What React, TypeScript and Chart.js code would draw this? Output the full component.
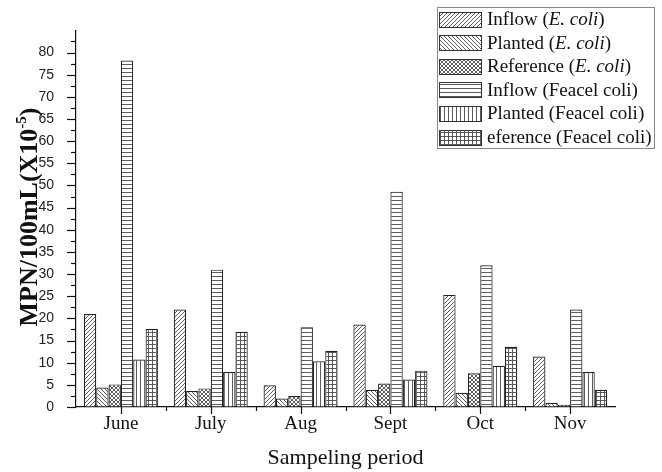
import React, { useEffect, useRef } from "react";
import { Chart, registerables } from "chart.js";

Chart.register(...registerables);

const categories = ["June", "July", "Aug", "Sept", "Oct", "Nov"];
const seriesLabels = [
  "Inflow (E. coli)",
  "Planted (E. coli)",
  "Reference (E. coli)",
  "Inflow (Feacel coli)",
  "Planted (Feacel coli)",
  "eference (Feacel coli)",
];
const inflowEColi = [21.0, 22.0, 4.9, 18.6, 25.3, 11.4];
const plantedEColi = [4.4, 3.6, 1.9, 3.9, 3.2, 0.9];
const referenceEColi = [5.1, 4.2, 2.5, 5.3, 7.6, 0.5];
const inflowFaecal = [78.2, 31.0, 18.0, 48.6, 32.0, 22.0];
const plantedFaecal = [10.7, 7.9, 10.3, 6.2, 9.3, 7.9];
const referenceFaecal = [17.6, 17.0, 12.7, 8.2, 13.6, 3.9];
const yTickValues = [0, 5, 10, 15, 20, 25, 30, 35, 40, 45, 50, 55, 60, 65, 70, 75, 80];
const yMinorValues = [2.5, 7.5, 12.5, 17.5, 22.5, 27.5, 32.5, 37.5, 42.5, 47.5, 52.5, 57.5, 62.5, 67.5, 72.5, 77.5, 82.5];
const yAxisMax = 85;
const xTitle = "Sampeling period";
const yTitleMain = "MPN/100mL(X10";
const yTitleSup = "-5";
const yTitleEnd = ")";

const patternKinds = ["fwd", "back", "cross", "horiz", "vert", "grid"];

const SERIF = "'Liberation Serif', 'Times New Roman', serif";
const SANS = "'Liberation Sans', Arial, sans-serif";

function makePattern(kind: string): CanvasPattern | string {
  const s = 4;
  const c = document.createElement("canvas");
  c.width = s;
  c.height = s;
  const g = c.getContext("2d");
  if (!g) return "#fff";
  g.fillStyle = "#ffffff";
  g.fillRect(0, 0, s, s);
  g.strokeStyle = "#4a4a4a";
  g.lineWidth = 0.9;
  const line = (x1: number, y1: number, x2: number, y2: number) => {
    g.beginPath();
    g.moveTo(x1, y1);
    g.lineTo(x2, y2);
    g.stroke();
  };
  const fwd = () => {
    line(-1, s + 1, s + 1, -1);
    line(-1, 1, 1, -1);
    line(s - 1, s + 1, s + 1, s - 1);
  };
  const back = () => {
    line(-1, -1, s + 1, s + 1);
    line(s - 1, -1, s + 1, 1);
    line(-1, s - 1, 1, s + 1);
  };
  if (kind === "fwd") fwd();
  if (kind === "back") back();
  if (kind === "cross") {
    fwd();
    back();
  }
  if (kind === "horiz" || kind === "grid") line(0, 0.5, s, 0.5);
  if (kind === "vert" || kind === "grid") line(0.5, 0, 0.5, s);
  const p = g.createPattern(c, "repeat");
  return p || "#fff";
}

function drawRichLabel(ctx: CanvasRenderingContext2D, text: string, x: number, y: number) {
  const parts = text.split(/(E\. coli)/);
  let cx = x;
  for (const part of parts) {
    if (!part) continue;
    ctx.font = (part === "E. coli" ? "italic " : "") + "19px " + SERIF;
    ctx.fillText(part, cx, y);
    cx += ctx.measureText(part).width;
  }
}

const decorPlugin = {
  id: "decor",
  afterDraw(chart: any) {
    const ctx: CanvasRenderingContext2D = chart.ctx;
    const { left, bottom } = chart.chartArea;
    const xs = chart.scales.x;
    const ys = chart.scales.y;
    ctx.save();
    ctx.strokeStyle = "#111";
    ctx.lineWidth = 1.2;
    // y ticks
    for (const v of yTickValues) {
      const py = Math.round(ys.getPixelForValue(v)) + 0.5;
      ctx.beginPath();
      ctx.moveTo(left, py);
      ctx.lineTo(left - 9, py);
      ctx.stroke();
    }
    for (const v of yMinorValues) {
      const py = Math.round(ys.getPixelForValue(v)) + 0.5;
      ctx.beginPath();
      ctx.moveTo(left, py);
      ctx.lineTo(left - 5, py);
      ctx.stroke();
    }
    // x ticks
    for (let i = 0; i < categories.length; i++) {
      const px = Math.round(xs.getPixelForValue(i)) + 0.5;
      ctx.beginPath();
      ctx.moveTo(px, bottom);
      ctx.lineTo(px, bottom + 7);
      ctx.stroke();
      if (i < categories.length - 1) {
        const bx = Math.round((xs.getPixelForValue(i) + xs.getPixelForValue(i + 1)) / 2) + 0.5;
        ctx.beginPath();
        ctx.moveTo(bx, bottom);
        ctx.lineTo(bx, bottom + 4);
        ctx.stroke();
      }
    }
    // y title
    ctx.fillStyle = "#111";
    ctx.textBaseline = "alphabetic";
    ctx.textAlign = "left";
    const mainFont = "bold 26px " + SERIF;
    const supFont = "bold 15px " + SERIF;
    ctx.font = mainFont;
    const w1 = ctx.measureText(yTitleMain).width;
    const w3 = ctx.measureText(yTitleEnd).width;
    ctx.font = supFont;
    const w2 = ctx.measureText(yTitleSup).width;
    const total = w1 + w2 + w3;
    ctx.translate(37, 217);
    ctx.rotate(-Math.PI / 2);
    let tx = -total / 2;
    ctx.font = mainFont;
    ctx.fillText(yTitleMain, tx, 0);
    tx += w1;
    ctx.font = supFont;
    ctx.fillText(yTitleSup, tx, -11);
    tx += w2;
    ctx.font = mainFont;
    ctx.fillText(yTitleEnd, tx, 0);
    ctx.setTransform(1, 0, 0, 1, 0, 0);
    // legend
    const lx = 437.5;
    const ly = 7.5;
    const lw = 217;
    const lh = 141;
    ctx.fillStyle = "#fff";
    ctx.fillRect(lx, ly, lw, lh);
    ctx.strokeStyle = "#888";
    ctx.lineWidth = 1;
    ctx.strokeRect(lx, ly, lw, lh);
    const ds = chart.data.datasets;
    for (let i = 0; i < ds.length; i++) {
      const cy = 19 + i * 23.6;
      ctx.fillStyle = ds[i].backgroundColor;
      ctx.fillRect(439.5, Math.round(cy - 7.5) + 0.5, 42, 15);
      ctx.strokeStyle = "#333";
      ctx.lineWidth = 1;
      ctx.strokeRect(439.5, Math.round(cy - 7.5) + 0.5, 42, 15);
      ctx.fillStyle = "#111";
      ctx.textBaseline = "middle";
      drawRichLabel(ctx, ds[i].label, 487, cy + 1);
    }
    ctx.restore();
  },
};

export default function App() {
  const canvasRef = useRef<HTMLCanvasElement | null>(null);

  useEffect(() => {
    const canvas = canvasRef.current;
    if (!canvas) return;
    const seriesValues = [inflowEColi, plantedEColi, referenceEColi, inflowFaecal, plantedFaecal, referenceFaecal];
    const datasets = seriesValues.map((vals, i) => ({
      label: seriesLabels[i],
      data: vals,
      backgroundColor: makePattern(patternKinds[i]),
      borderColor: "#222",
      borderWidth: 1.2,
      borderSkipped: "bottom",
      categoryPercentage: 0.824,
      barPercentage: 1.0,
    }));
    const chart = new Chart(canvas, {
      type: "bar",
      data: { labels: categories, datasets: datasets as any },
      options: {
        animation: false,
        responsive: true,
        maintainAspectRatio: false,
        layout: { padding: { top: 5, right: 47, bottom: 0, left: 0 } },
        plugins: { legend: { display: false }, tooltip: { enabled: false } },
        scales: {
          x: {
            offset: true,
            grid: { display: true, drawOnChartArea: false, drawTicks: false, offset: false, color: "rgba(0,0,0,0)" },
            border: { display: true, color: "#111", width: 1.2 },
            ticks: { font: { family: SERIF, size: 19 }, color: "#111", padding: 6, maxRotation: 0 },
            title: { display: true, text: xTitle, font: { family: SERIF, size: 22 }, color: "#111", padding: { top: 0, bottom: 1 } },
            afterFit: (scale: any) => {
              scale.height = 65;
            },
          },
          y: {
            min: 0,
            max: yAxisMax,
            grid: { display: true, drawOnChartArea: false, drawTicks: false, color: "rgba(0,0,0,0)" },
            border: { display: true, color: "#111", width: 1.2 },
            ticks: { font: { family: SANS, size: 14 }, color: "#222", padding: 22 },
            afterBuildTicks: (scale: any) => {
              scale.ticks = yTickValues.map((v) => ({ value: v }));
            },
            afterFit: (scale: any) => {
              scale.width = 76;
            },
          },
        },
      },
      plugins: [decorPlugin],
    });
    return () => chart.destroy();
  }, []);

  return (
    <div style={{ position: "fixed", left: 0, top: 0, width: 662, height: 472, background: "#fff" }}>
      <canvas ref={canvasRef} />
    </div>
  );
}
